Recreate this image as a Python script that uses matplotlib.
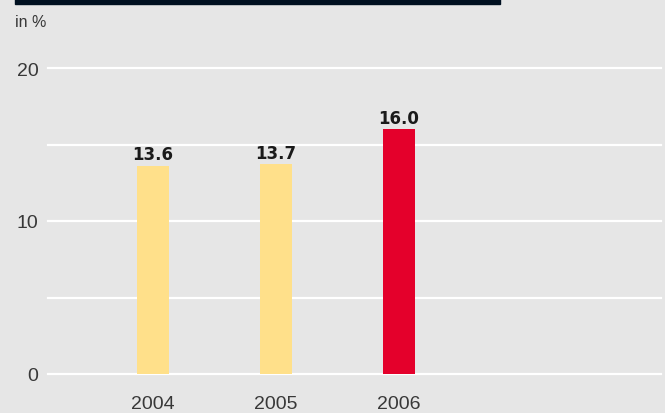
import matplotlib
matplotlib.use("Agg")
import matplotlib.pyplot as plt
from matplotlib.patches import Rectangle

years = ["2004", "2005", "2006"]
values = [13.6, 13.7, 16.0]
colors = ["#ffe08a", "#ffe08a", "#e4002b"]
yticks = [0, 10, 20]
grid_lines = [0, 5, 10, 15, 20]

bg = "#e6e6e6"
txt = "#383838"

fig = plt.figure(figsize=(6.65, 4.14), dpi=100)
fig.patch.set_facecolor(bg)

# dark title band at the top (cut off)
fig.patches.append(Rectangle((15 / 665, 409 / 414), 485 / 665, 5 / 414,
                             transform=fig.transFigure, color="#001020", zorder=5))

ax = fig.add_axes([48 / 665, 39 / 414, 613 / 665, 306 / 414])
ax.set_facecolor(bg)
ax.set_xlim(-0.85, 4.13)
ax.set_ylim(0, 20)

for g in grid_lines:
    ax.axhline(g, color="white", lw=1.6, zorder=1, clip_on=False)

x = list(range(len(years)))
ax.bar(x, values, width=0.26, color=colors, zorder=2)

for xi, v in zip(x, values):
    ax.annotate(f"{v:.1f}", (xi, v), xytext=(0, 4.7), textcoords="offset points",
                ha="center", va="baseline", fontsize=12, fontweight="bold",
                color="#1a1a1a", family="DejaVu Sans")

for s in ax.spines.values():
    s.set_visible(False)

ax.set_yticks(yticks)
ax.set_yticklabels([str(t) for t in yticks])
ax.set_xticks(x)
ax.set_xticklabels(years)
ax.tick_params(length=0, labelsize=14, colors=txt, labelfontfamily="Liberation Sans")
ax.tick_params(axis="y", pad=7)
ax.tick_params(axis="x", pad=15)

fig.text(15 / 665, 1 - 27 / 414, "in %", fontsize=11.5, color=txt,
         family="Liberation Sans", va="baseline", ha="left")

fig.savefig("out.png", dpi=100, facecolor=bg)
